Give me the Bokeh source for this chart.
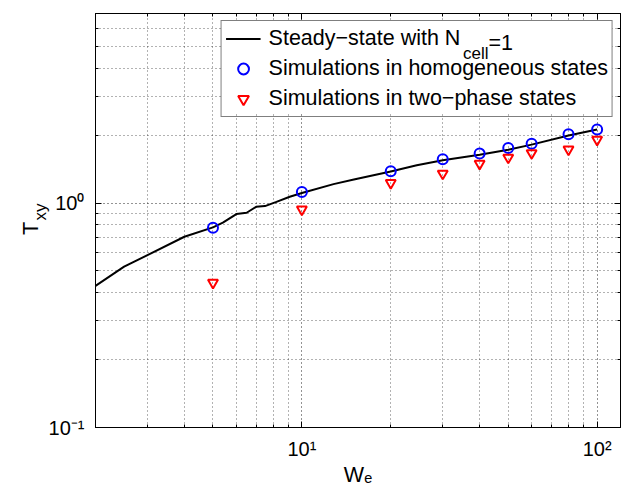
import math
from bokeh.plotting import figure
from bokeh.models import (FixedTicker, LogAxis, Label, Legend, LegendItem,
                          BoxAnnotation)
from bokeh.embed import file_html
from bokeh.resources import INLINE

# ---------------- data ----------------
steady_we = [2, 2.5, 3, 4, 5, 5.4, 6, 6.5, 7, 7.5, 8.2, 9.1, 10, 12.8, 15, 20,
             24.5, 30, 40, 50, 60, 80, 100]
steady_txy = [0.428, 0.521, 0.587, 0.708, 0.78, 0.818, 0.894, 0.906, 0.963, 0.97,
              1.013, 1.067, 1.11, 1.215, 1.274, 1.383, 1.475, 1.553, 1.644, 1.73,
              1.823, 2.0, 2.13]

hom_we = [5, 10, 20, 30, 40, 50, 60, 80, 100]
hom_txy = [0.777, 1.12, 1.388, 1.57, 1.663, 1.76, 1.84, 2.025, 2.13]

two_we = [5, 10, 20, 30, 40, 50, 60, 80, 100]
two_txy = [0.442, 0.937, 1.231, 1.355, 1.50, 1.596, 1.672, 1.736, 1.918]

x_major = [10, 100]
x_major_exp = [1, 2]
y_major = [0.1, 1]
y_major_exp = [-1, 0]
x_minor = [2, 3, 4, 5, 6, 7, 8, 9, 20, 30, 40, 50, 60, 70, 80, 90]
y_minor = [0.2, 0.3, 0.4, 0.5, 0.6, 0.7, 0.8, 0.9, 2, 3, 4, 5, 6, 7]

legend_labels = ["Steady\u2212state with N",
                 "Simulations in homogeneous states",
                 "Simulations in two\u2212phase states"]
legend_sub = "cell"
legend_tail = "=1"
x_title, x_title_sub = "W", "\u2091"
y_title, y_title_sub = "T", "xy"

x_start, x_end = 2, 120
y_start, y_end = 0.1, 7

FONT = "Liberation Sans"
SUP = str.maketrans("0123456789-", "\u2070\u00b9\u00b2\u00b3\u2074\u2075\u2076\u2077\u2078\u2079\u207b")


def pow10(e):
    return "10" + str(e).translate(SUP)


p = figure(width=621, height=489, x_axis_type="log", y_axis_type="log",
           x_range=(x_start, x_end), y_range=(y_start, y_end),
           output_backend="svg", toolbar_location=None, tools="",
           min_border_left=95, min_border_right=1, min_border_top=13,
           min_border_bottom=61)
p.background_fill_color = "white"
p.border_fill_color = "white"
p.outline_line_color = "black"
p.outline_line_width = 1
p.outline_line_alpha = 1

xt = FixedTicker(ticks=x_major, minor_ticks=x_minor)
yt = FixedTicker(ticks=y_major, minor_ticks=y_minor)


def style_axis(ax, ticker, show_labels=False):
    ax.ticker = ticker
    if not show_labels:
        ax.major_label_text_font_size = "1px"
        ax.major_label_text_color = None
        ax.major_label_standoff = 0
    ax.major_tick_in = 6
    ax.major_tick_out = 0
    ax.minor_tick_in = 3
    ax.minor_tick_out = 0
    ax.major_tick_line_color = "black"
    ax.minor_tick_line_color = "black"
    ax.axis_line_color = "black"


xax = p.xaxis[0]
style_axis(xax, xt, True)
xax.major_label_overrides = {v: pow10(e) for v, e in zip(x_major, x_major_exp)}
xax.major_label_text_font = FONT
xax.major_label_text_font_size = "20px"
xax.major_label_text_color = "black"
xax.major_label_standoff = 10
xax.axis_label = x_title + x_title_sub
xax.axis_label_text_font = FONT
xax.axis_label_text_font_size = "21.5px"
xax.axis_label_text_font_style = "normal"
xax.axis_label_text_color = "black"
xax.axis_label_standoff = 0

yax = p.yaxis[0]
style_axis(yax, yt, True)
yax.major_label_overrides = {v: pow10(e) for v, e in zip(y_major, y_major_exp)}
yax.major_label_text_font = FONT
yax.major_label_text_font_size = "20px"
yax.major_label_text_color = "black"
yax.major_label_standoff = 11

top_ax = LogAxis()
style_axis(top_ax, xt)
p.add_layout(top_ax, "above")
right_ax = LogAxis()
style_axis(right_ax, yt)
p.add_layout(right_ax, "right")

for g in (p.xgrid[0], p.ygrid[0]):
    g.grid_line_color = "black"
    g.grid_line_alpha = 0.85
    g.grid_line_dash = "1 3"
    g.minor_grid_line_color = "#222222"
    g.minor_grid_line_alpha = 0.7
    g.minor_grid_line_dash = "1 3"

# opaque white backing for the legend box (masks the grid under it)
p.add_layout(BoxAnnotation(left=127, right=517, top=407, bottom=315,
                           left_units="screen", right_units="screen",
                           top_units="screen", bottom_units="screen",
                           fill_color="white", fill_alpha=1.0,
                           line_color=None, level="underlay"))

line_r = p.line(steady_we, steady_txy, line_color="black", line_width=2)
hom_r = p.scatter(hom_we, hom_txy, marker="circle", size=10, fill_color=None,
                  line_color="#0000FF", line_width=2)
two_r = p.scatter(two_we, two_txy, marker="inverted_triangle", size=10,
                  fill_color=None, line_color="#FF0000", line_width=2)

legend = Legend(items=[LegendItem(label=legend_labels[0], renderers=[line_r]),
                       LegendItem(label=legend_labels[1], renderers=[hom_r]),
                       LegendItem(label=legend_labels[2], renderers=[two_r])],
                location="top_right", margin=7, padding=4, spacing=3,
                glyph_width=35, glyph_height=27, label_height=27,
                label_standoff=8, label_text_font=FONT,
                label_text_font_size="21.5px", label_text_color="black",
                border_line_color="black", border_line_width=1,
                background_fill_alpha=0.0)
p.add_layout(legend)

# subscript part of the first legend entry
p.add_layout(Label(x=367.5, y=374, x_units="screen", y_units="screen",
                   text=legend_sub, text_font=FONT, text_font_size="17px",
                   text_color="black", text_align="left",
                   text_baseline="alphabetic"))
p.add_layout(Label(x=393, y=385, x_units="screen", y_units="screen",
                   text=legend_tail, text_font=FONT, text_font_size="21.5px",
                   text_color="black", text_align="left",
                   text_baseline="alphabetic"))

# y-axis title with subscript, placed in the left side panel
y_mid = math.sqrt(y_start * y_end)
p.add_layout(Label(x=x_start, y=y_mid, x_offset=-65, y_offset=-14.5,
                   text=y_title, text_font=FONT, text_font_size="21.5px",
                   text_color="black", angle=math.pi / 2, text_align="left",
                   text_baseline="alphabetic"), "left")
p.add_layout(Label(x=x_start, y=y_mid, x_offset=-55, y_offset=0,
                   text=y_title_sub, text_font=FONT, text_font_size="17px",
                   text_color="black", angle=math.pi / 2, text_align="left",
                   text_baseline="alphabetic"), "left")

open("out.html", "w").write(file_html(p, INLINE))
